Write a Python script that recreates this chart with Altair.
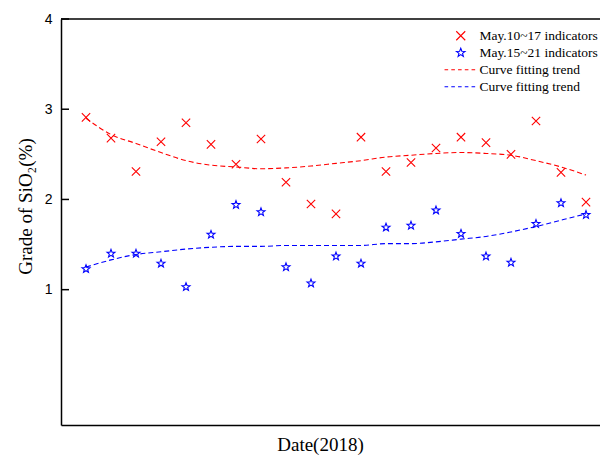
import altair as alt
import pandas as pd

# Sampling days (index along the 2018 date axis)
day = list(range(1, 22))

# SiO2 grade measured for each indicator group (%)
may10_17 = [2.91, 2.68, 2.31, 2.64, 2.85, 2.61, 2.39, 2.67, 2.19, 1.95, 1.84,
            2.69, 2.31, 2.41, 2.57, 2.69, 2.63, 2.50, 2.87, 2.30, 1.97]
may15_21 = [1.23, 1.40, 1.40, 1.29, 1.03, 1.61, 1.94, 1.86, 1.25, 1.07, 1.37,
            1.29, 1.69, 1.71, 1.88, 1.62, 1.37, 1.30, 1.73, 1.96, 1.83]

# Fitted trend curves for both groups
trend_10_17 = [2.90, 2.72, 2.62, 2.52, 2.43, 2.38, 2.36, 2.34, 2.35, 2.37, 2.40,
               2.43, 2.47, 2.49, 2.51, 2.52, 2.51, 2.49, 2.43, 2.36, 2.27]
trend_15_21 = [1.25, 1.33, 1.39, 1.42, 1.45, 1.47, 1.48, 1.48, 1.49, 1.49, 1.49,
               1.49, 1.51, 1.51, 1.53, 1.56, 1.59, 1.64, 1.70, 1.77, 1.84]

y_ticks = [1, 2, 3, 4]
y_top = [4]

S1 = "May.10~17 indicators"
S2 = "May.15~21 indicators"
T1 = "Curve fitting trend (May.10~17)"
T2 = "Curve fitting trend (May.15~21)"
series_order = [S1, S2, T1, T2]
series_colors = ["#ff0000", "#0000ff", "#ff0000", "#0000ff"]

points = pd.DataFrame({
    "day": day + day,
    "grade": may10_17 + may15_21,
    "series": [S1] * len(day) + [S2] * len(day),
})
trends = pd.DataFrame({
    "day": day + day,
    "grade": trend_10_17 + trend_15_21,
    "series": [T1] * len(day) + [T2] * len(day),
})
ticks = pd.DataFrame({"grade": y_ticks})
top = pd.DataFrame({"grade": y_top})

# Marker outlines as SVG paths in unit coordinates
X_PATH = "M-1,-1L1,1M-1,1L1,-1"
STAR_PATH = ("M0,-1L0.247,-0.34L0.951,-0.309L0.399,0.13L0.588,0.809L0,0.42"
             "L-0.588,0.809L-0.399,0.13L-0.951,-0.309L-0.247,-0.34Z")
DASH_PATH = "M-3.6,0H-2.8M-2.1,0H-1.3M-0.6,0H0.2M0.9,0H1.7M2.4,0H3.2"

x_scale = alt.Scale(domain=[0, 21.56], nice=False, zero=False)
y_scale = alt.Scale(domain=[-0.5, 4], nice=False, zero=False)

legend = alt.Legend(
    title=None,
    orient="none",
    legendX=393,
    legendY=10,
    labelExpr="indexof(datum.label, '(') > 0 ? 'Curve fitting trend' : datum.label",
)

# The legend lives on the marker layer; its domain also lists the trend curves
color = alt.Color(
    "series:N",
    scale=alt.Scale(domain=series_order, range=series_colors),
    legend=legend,
)
shape = alt.Shape(
    "series:N",
    scale=alt.Scale(domain=series_order,
                    range=[X_PATH, STAR_PATH, DASH_PATH, DASH_PATH]),
    legend=legend,
)
trend_stroke = alt.Stroke(
    "series:N",
    scale=alt.Scale(domain=[T1, T2], range=["#ff0000", "#0000ff"]),
    legend=None,
)

x_enc = alt.X(
    "day:Q",
    scale=x_scale,
    axis=alt.Axis(
        title="Date(2018)",
        labels=False,
        ticks=False,
        grid=False,
        domainColor="#000000",
        domainWidth=1.5,
        titleFont="Liberation Serif",
        titleFontSize=19,
        titleFontWeight="normal",
        titleColor="#000000",
        titleX=259,
        titleY=25,
        titleBaseline="alphabetic",
    ),
)
y_enc = alt.Y(
    "grade:Q",
    scale=y_scale,
    axis=alt.Axis(
        title="Grade of SiO₂(%)",
        values=y_ticks,
        format="d",
        ticks=False,
        grid=False,
        domainColor="#000000",
        domainWidth=1.5,
        labelFont="Liberation Sans",
        labelFontSize=14,
        labelColor="#000000",
        labelPadding=9,
        titleFont="Liberation Serif",
        titleFontSize=19,
        titleFontWeight="normal",
        titleColor="#000000",
        titleX=-36,
        titleY=187,
        titleAngle=-90,
        titleBaseline="middle",
        titleAlign="center",
    ),
)

trend_lines = alt.Chart(trends).mark_line(
    strokeDash=[5, 3], strokeWidth=1.1, interpolate="monotone"
).encode(x=x_enc, y=y_enc, stroke=trend_stroke, detail="series:N")

markers = alt.Chart(points).mark_point(
    filled=False, size=70, strokeWidth=1.1, opacity=1
).encode(x=x_enc, y=y_enc, color=color, shape=shape)

# Inward tick marks on the left axis
tick_marks = alt.Chart(ticks).mark_rule(color="#000000", strokeWidth=1.5).encode(
    y=y_enc, x=alt.value(0), x2=alt.value(8)
)

# Top frame line at the upper end of the grade scale
top_line = alt.Chart(top).mark_rule(color="#000000", strokeWidth=1.5).encode(
    y=y_enc
)

chart = alt.layer(trend_lines, markers, tick_marks, top_line).properties(
    width=539,
    height=406,
    autosize=alt.AutoSizeParams(type="none"),
    padding={"left": 61, "top": 19, "right": 0, "bottom": 32},
    background="#ffffff",
).configure_view(
    stroke=None
).configure_legend(
    labelFont="Liberation Serif",
    labelFontSize=13.5,
    labelColor="#000000",
    symbolSize=81,
    symbolStrokeWidth=1.1,
    rowPadding=2,
    labelOffset=12,
    padding=0,
)

chart.save("out.html", embed_options={"renderer": "svg", "actions": False})
